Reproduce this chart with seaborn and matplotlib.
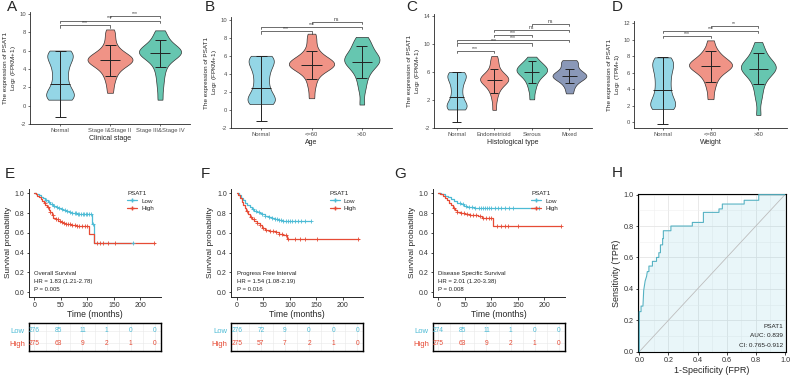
import numpy as np
import pandas as pd

import matplotlib
matplotlib.use('Agg')

import matplotlib.pyplot as plt
import matplotlib.lines as mlines

import seaborn as sns


# ---------------- violin panels (A-D) ----------------
# representative sample values (min, bulk, max)
normal_fpkm = [0.65, 0.75, 0.85, 1.0, 1.2, 1.45, 1.8, 2.2, 2.7, 3.2, 3.7, 4.2, 4.6, 5.0, 5.3, 5.55, 5.75, 5.9, 6.0]
stage12 = [1.4, 2.4, 3.1, 3.6, 4.0, 4.3, 4.55, 4.7, 4.8, 4.9, 5.0, 5.1, 5.2, 5.35, 5.5, 5.7, 6.0, 6.4, 7.0, 7.7, 8.3]
stage34 = [0.65, 2.0, 3.0, 3.8, 4.4, 4.9, 5.2, 5.45, 5.6, 5.7, 5.8, 5.9, 6.0, 6.1, 6.25, 6.45, 6.8, 7.2, 7.7, 8.2]
age_le60 = [1.3, 2.5, 3.3, 3.9, 4.3, 4.55, 4.75, 4.85, 4.95, 5.05, 5.15, 5.25, 5.4, 5.55, 5.75, 6.0, 6.4, 7.0, 7.8, 8.45]
age_gt60 = [0.6, 2.2, 3.1, 3.8, 4.3, 4.7, 5.0, 5.2, 5.35, 5.5, 5.65, 5.8, 6.0, 6.25, 6.6, 6.9, 7.3, 7.7, 8.1]
endometrioid = [0.6, 2.0, 2.9, 3.5, 3.9, 4.3, 4.55, 4.7, 4.85, 4.95, 5.05, 5.2, 5.4, 5.6, 5.9, 6.3, 7.0, 7.6, 8.3]
serous = [2.1, 3.3, 4.1, 4.7, 5.1, 5.5, 5.75, 5.95, 6.1, 6.25, 6.4, 6.6, 6.8, 7.0, 7.3, 7.6, 8.2]
mixed = [2.95, 3.8, 4.4, 4.8, 5.05, 5.25, 5.4, 5.55, 5.7, 5.9, 6.2, 6.6, 7.1, 7.5, 7.7]
normal_tpm = [1.6, 1.7, 1.82, 2.0, 2.25, 2.55, 2.95, 3.4, 3.9, 4.4, 4.9, 5.4, 5.9, 6.35, 6.75, 7.1, 7.4, 7.65, 7.85]
weight_le80 = [2.8, 4.0, 4.8, 5.4, 5.8, 6.15, 6.4, 6.6, 6.75, 6.85, 6.95, 7.1, 7.25, 7.45, 7.7, 8.0, 8.4, 8.9, 9.9]
weight_gt80 = [0.9, 2.8, 3.8, 4.6, 5.2, 5.65, 5.95, 6.2, 6.4, 6.55, 6.7, 6.85, 7.0, 7.2, 7.5, 7.9, 8.4, 8.9, 9.7]

cats_A = ["Normal", "Stage I&Stage II", "Stage III&Stage IV"]
mean_A = [2.4, 4.95, 5.75]
lo_A = [-1.2, 3.25, 4.25]
hi_A = [6.0, 6.65, 7.2]
sig_A = [(0, 1, 8.75, "***"), (0, 2, 9.25, "***"), (1, 2, 9.75, "***")]

cats_B = ["Normal", "<=60", ">60"]
mean_B = [2.4, 5.0, 5.3]
lo_B = [-1.2, 3.4, 3.5]
hi_B = [6.0, 6.55, 7.05]
sig_B = [(0, 1, 8.7, "***"), (0, 2, 9.2, "***"), (1, 2, 9.75, "ns")]

cats_C = ["Normal", "Endometrioid", "Serous", "Mixed"]
mean_C = [2.4, 4.85, 6.0, 5.5]
lo_C = [-1.2, 3.05, 4.4, 4.5]
hi_C = [6.0, 6.5, 7.6, 6.5]
sig_C = [(0, 1, 9.0, "***"), (0, 2, 10.1, "***"), (0, 3, 10.6, "***"),
         (1, 2, 11.3, "***"), (1, 3, 12.0, "ns"), (2, 3, 12.85, "ns")]

cats_D = ["Normal", "<=80", ">80"]
mean_D = [3.85, 6.8, 6.5]
lo_D = [-0.15, 4.9, 4.65]
hi_D = [7.85, 8.65, 8.4]
sig_D = [(0, 1, 10.4, "***"), (0, 2, 11.0, "***"), (1, 2, 11.6, "**")]

# ---------------- survival panels (E-G) ----------------
os_low_t = [0, 4, 8, 12, 16, 20, 25, 30, 35, 40, 45, 50, 55, 60, 66, 72, 80, 109, 113, 188]
os_low_s = [1.0, 0.99, 0.98, 0.965, 0.95, 0.935, 0.915, 0.895, 0.875, 0.86, 0.85, 0.84, 0.83, 0.82, 0.81, 0.80, 0.79, 0.69, 0.50, 0.50]
os_low_cens = [22, 28, 33, 38, 42, 47, 52, 57, 62, 67, 72, 76, 79, 82, 85, 88, 91, 94, 97, 100, 103, 106, 111, 187]
os_high_t = [0, 3, 6, 9, 12, 15, 18, 21, 24, 27, 30, 33, 36, 40, 45, 50, 55, 60, 70, 80, 103, 113, 228]
os_high_s = [1.0, 0.99, 0.975, 0.96, 0.94, 0.92, 0.90, 0.88, 0.86, 0.835, 0.81, 0.78, 0.755, 0.74, 0.725, 0.715, 0.705, 0.695, 0.68, 0.665, 0.59, 0.50, 0.50]
os_high_cens = [20, 25, 30, 35, 40, 44, 48, 52, 56, 60, 64, 68, 72, 76, 80, 85, 90, 95, 100, 118, 124, 130, 139, 152, 226]

pfi_low_t = [0, 4, 8, 12, 16, 20, 24, 28, 33, 38, 43, 48, 54, 60, 66, 72, 80, 88, 139]
pfi_low_s = [1.0, 0.98, 0.955, 0.93, 0.90, 0.88, 0.86, 0.84, 0.825, 0.81, 0.80, 0.79, 0.775, 0.76, 0.75, 0.74, 0.73, 0.72, 0.72]
pfi_low_cens = [30, 36, 42, 48, 54, 60, 66, 72, 76, 80, 84, 88, 92, 96, 100, 104, 110, 116, 122, 128, 139]
pfi_high_t = [0, 3, 6, 9, 12, 15, 18, 21, 25, 29, 33, 38, 43, 48, 54, 60, 66, 73, 80, 88, 95, 231]
pfi_high_s = [1.0, 0.98, 0.95, 0.915, 0.88, 0.85, 0.82, 0.79, 0.76, 0.74, 0.72, 0.70, 0.675, 0.65, 0.63, 0.62, 0.615, 0.605, 0.59, 0.575, 0.535, 0.535]
pfi_high_cens = [20, 26, 32, 38, 44, 50, 56, 62, 68, 74, 80, 86, 92, 97, 110, 120, 128, 151, 229]

dss_low_t = [0, 6, 12, 18, 24, 30, 36, 42, 48, 54, 60, 68, 76, 190]
dss_low_s = [1.0, 0.99, 0.975, 0.96, 0.945, 0.925, 0.905, 0.89, 0.875, 0.865, 0.86, 0.855, 0.85, 0.85]
dss_low_cens = [40, 46, 52, 58, 64, 70, 76, 80, 84, 88, 92, 96, 100, 106, 112, 118, 126, 134, 140, 190]
dss_high_t = [0, 4, 8, 12, 16, 20, 24, 28, 32, 36, 42, 50, 60, 75, 82, 104, 232]
dss_high_s = [1.0, 0.99, 0.975, 0.955, 0.93, 0.905, 0.88, 0.855, 0.835, 0.815, 0.80, 0.79, 0.785, 0.775, 0.755, 0.665, 0.665]
dss_high_cens = [30, 36, 42, 48, 54, 60, 66, 72, 78, 85, 90, 95, 100, 110, 118, 126, 132, 151, 232]

risk_times = [0, 50, 100, 150, 200, 250]
os_risk_low = [276, 85, 11, 1, 0, 0]
os_risk_high = [275, 63, 9, 2, 1, 0]
pfi_risk_low = [276, 72, 9, 0, 0, 0]
pfi_risk_high = [275, 57, 7, 2, 1, 0]
dss_risk_low = [274, 85, 11, 1, 0, 0]
dss_risk_high = [275, 63, 9, 2, 1, 0]

# ---------------- ROC (H) ----------------
roc_fpr = [0, 0, 0.012, 0.012, 0.025, 0.03, 0.04, 0.05, 0.055, 0.066, 0.066, 0.09, 0.09, 0.118, 0.118,
           0.134, 0.134, 0.145, 0.145, 0.16, 0.16, 0.165, 0.165, 0.217, 0.217, 0.364, 0.364, 0.44, 0.44,
           0.547, 0.547, 0.57, 0.57, 0.72, 0.72, 0.82, 0.82, 1.0]
roc_tpr = [0, 0.255, 0.255, 0.29, 0.29, 0.39, 0.45, 0.48, 0.51, 0.51, 0.545, 0.545, 0.575, 0.575, 0.60,
           0.60, 0.63, 0.63, 0.68, 0.68, 0.72, 0.72, 0.77, 0.77, 0.80, 0.80, 0.823, 0.823, 0.887,
           0.887, 0.909, 0.909, 0.94, 0.94, 0.964, 0.964, 1.0, 1.0]

C_LOW = "#4DBBD5"
C_HIGH = "#E64B35"
VIOLIN_COLS = ["#94D6E6", "#F09386", "#66C6B0", "#8A98B8"]
TICK_COL = "#4D4D4D"


def px_axes(fig, l, t, r, b):
    W, H = 792.0, 384.0
    return fig.add_axes([l / W, 1 - b / H, (r - l) / W, (b - t) / H])


def violin_panel(ax, cats, samples, means, lo, hi, sigs, ylim, yticks, xlabel, ylabel):
    df = pd.DataFrame({"group": np.repeat(cats, [len(s) for s in samples]),
                       "value": np.concatenate(samples)})
    sns.violinplot(data=df, x="group", y="value", hue="group", order=cats, hue_order=cats,
                   palette=VIOLIN_COLS[:len(cats)], cut=0, inner=None, density_norm="area",
                   common_norm=True, width=0.9, linewidth=0.5, linecolor="#333333", saturation=1,
                   bw_adjust=0.65, legend=False, ax=ax)
    x = np.arange(len(cats))
    kw = dict(color="#222222", lw=0.7, zorder=5)
    ax.vlines(x, lo, hi, **kw)
    ax.hlines(lo, x - 0.11, x + 0.11, **kw)
    ax.hlines(hi, x - 0.11, x + 0.11, **kw)
    ax.hlines(means, x - 0.2, x + 0.2, **kw)

    tick = 0.02 * (ylim[1] - ylim[0])
    for i, j, h, lab in sigs:
        ax.plot([i, i, j, j], [h - tick, h, h, h - tick], color="#333333", lw=0.5)
        ax.text((i + j) / 2, h + tick * 0.15, lab, ha="center", va="bottom", fontsize=3.6, color="#333333")

    ax.set_xlim(-0.6, len(cats) - 0.4)
    ax.set_ylim(*ylim)
    ax.set_yticks(yticks)
    ax.set_xlabel(xlabel, fontsize=5, labelpad=1.5)
    ax.set_ylabel(ylabel, fontsize=4.6, labelpad=1, linespacing=1.1)
    ax.tick_params(labelsize=4.2, length=1.5, width=0.5, pad=1.5, colors="#333333", labelcolor=TICK_COL)
    sns.despine(ax=ax)
    for s in ["left", "bottom"]:
        ax.spines[s].set_linewidth(0.6)


def km_panel(ax, curves, name, hr, pval):
    for t, s, cens, col in curves:
        sns.lineplot(x=t, y=s, drawstyle="steps-post", color=col, lw=0.9,
                     estimator=None, sort=False, ax=ax)
        t_arr = np.array(t)
        cs = np.array(s)[np.searchsorted(t_arr, cens, side="right") - 1]
        sns.scatterplot(x=cens, y=cs, marker="+", color=col, s=9, linewidth=0.6, ax=ax, zorder=4)
    ax.set_xlim(-10, 238)
    ax.set_ylim(-0.05, 1.05)
    ax.set_xticks([0, 50, 100, 150, 200])
    ax.set_yticks([0, 0.2, 0.4, 0.6, 0.8, 1.0])
    ax.set_yticklabels(["0.0", "0.2", "0.4", "0.6", "0.8", "1.0"])
    ax.set_xlabel("Time (months)", fontsize=6.2, labelpad=1)
    ax.set_ylabel("Survival probability", fontsize=6, labelpad=2)
    ax.tick_params(labelsize=5, length=1.8, width=0.6, pad=1.5, labelcolor="#333333")
    sns.despine(ax=ax)
    for s in ["left", "bottom"]:
        ax.spines[s].set_linewidth(0.7)
    for k, txt in enumerate([name, hr, pval]):
        ax.text(0, 0.19 - 0.083 * k, txt, fontsize=4.3, ha="left", va="center", color="#222222")
    handles = [mlines.Line2D([], [], color=C_LOW, marker="+", markersize=3, lw=0.9, label="Low"),
               mlines.Line2D([], [], color=C_HIGH, marker="+", markersize=3, lw=0.9, label="High")]
    ax.legend(handles=handles, title="PSAT1", loc="upper left", bbox_to_anchor=(0.73, 1.0),
              frameon=False, fontsize=4.5, title_fontsize=4.5, handlelength=1.6,
              alignment="left", labelspacing=0.35, borderaxespad=0, handletextpad=0.6)


def risk_table(ax, low, high):
    ax.set_xlim(-11, 262)
    ax.set_ylim(-0.6, 1.6)
    for k, t in enumerate(risk_times):
        ax.text(t, 1, str(low[k]), color=C_LOW, ha="center", va="center", fontsize=4.8)
        ax.text(t, 0, str(high[k]), color=C_HIGH, ha="center", va="center", fontsize=4.8)
    ax.set_xticks(risk_times)
    ax.set_xticks([25, 75, 125, 175, 225], minor=True)
    ax.set_yticks([1, 0])
    ax.set_yticklabels(["Low", "High"])
    for lab, col in zip(ax.get_yticklabels(), [C_LOW, C_HIGH]):
        lab.set_color(col)
    ax.tick_params(axis="y", labelsize=5.5, length=0, pad=3)
    ax.tick_params(axis="x", which="both", length=0, labelbottom=False)
    ax.grid(True, which="both", color="#E8E8E8", lw=0.4)
    ax.set_axisbelow(True)
    for s in ax.spines.values():
        s.set_visible(True)
        s.set_color("black")
        s.set_linewidth(1.0)


def main():
    sns.set_style("ticks")
    plt.rcParams["font.family"] = ["Liberation Sans", "DejaVu Sans"]
    plt.rcParams["mathtext.default"] = "regular"
    plt.rcParams["axes.unicode_minus"] = False

    fig = plt.figure(figsize=(7.92, 3.84), dpi=100)

    # top row
    ylab_fpkm = "The expression of PSAT1\nLog$_2$ (FPKM+1)"
    ax = px_axes(fig, 30, 12, 190, 124)
    violin_panel(ax, cats_A, [normal_fpkm, stage12, stage34], mean_A, lo_A, hi_A, sig_A,
                 (-2, 10.2), [-2, 0, 2, 4, 6, 8, 10], "Clinical stage", ylab_fpkm)
    ax = px_axes(fig, 231, 17, 392, 128)
    violin_panel(ax, cats_B, [normal_fpkm, age_le60, age_gt60], mean_B, lo_B, hi_B, sig_B,
                 (-2, 10.3), [-2, 0, 2, 4, 6, 8, 10], "Age", ylab_fpkm)
    ax = px_axes(fig, 434, 14, 592, 128)
    violin_panel(ax, cats_C, [normal_fpkm, endometrioid, serous, mixed], mean_C, lo_C, hi_C, sig_C,
                 (-2, 14.3), [-2, 2, 6, 10, 14], "Histological type", ylab_fpkm)
    ax = px_axes(fig, 634, 21, 787, 128)
    violin_panel(ax, cats_D, [normal_tpm, weight_le80, weight_gt80], mean_D, lo_D, hi_D, sig_D,
                 (-0.68, 12.24), [0, 2, 4, 6, 8, 10, 12], "Weight",
                 "The expression of PSAT1\nLog$_2$ (TPM+1)")

    # survival
    km_sets = [
        (29, [(os_low_t, os_low_s, os_low_cens, C_LOW), (os_high_t, os_high_s, os_high_cens, C_HIGH)],
         "Overall Survival", "HR = 1.83 (1.21-2.78)", "P = 0.005", os_risk_low, os_risk_high),
        (231.5, [(pfi_low_t, pfi_low_s, pfi_low_cens, C_LOW), (pfi_high_t, pfi_high_s, pfi_high_cens, C_HIGH)],
         "Progress Free Interval", "HR = 1.54 (1.08-2.19)", "P = 0.016", pfi_risk_low, pfi_risk_high),
        (433, [(dss_low_t, dss_low_s, dss_low_cens, C_LOW), (dss_high_t, dss_high_s, dss_high_cens, C_HIGH)],
         "Disease Specific Survival", "HR = 2.01 (1.20-3.38)", "P = 0.008", dss_risk_low, dss_risk_high),
    ]
    for left, curves, name, hr, pval, rl, rh in km_sets:
        ax = px_axes(fig, left, 188.5, left + 131.5, 297)
        km_panel(ax, curves, name, hr, pval)
        ax = px_axes(fig, left, 323, left + 131.5, 351)
        risk_table(ax, rl, rh)

    # ROC
    ax = px_axes(fig, 638.3, 194, 785.7, 352.3)
    ax.fill_between(roc_fpr, roc_tpr, color=C_LOW, alpha=0.12, lw=0, zorder=1)
    sns.lineplot(x=roc_fpr, y=roc_tpr, sort=False, estimator=None, color="#56B2C3", lw=0.8, ax=ax, zorder=3)
    ax.axline((0, 0), slope=1, color="#BDBDBD", lw=0.6, zorder=2)
    ax.set_xlim(-0.007, 1.005)
    ax.set_ylim(-0.004, 1.004)
    ticks = [0, 0.2, 0.4, 0.6, 0.8, 1.0]
    tlabs = ["0.0", "0.2", "0.4", "0.6", "0.8", "1.0"]
    ax.set_xticks(ticks)
    ax.set_xticklabels(tlabs)
    ax.set_yticks(ticks)
    ax.set_yticklabels(tlabs)
    ax.set_xticks([0.1, 0.3, 0.5, 0.7, 0.9], minor=True)
    ax.set_yticks([0.1, 0.3, 0.5, 0.7, 0.9], minor=True)
    ax.grid(True, which="major", color="#E5E5E5", lw=0.6)
    ax.grid(True, which="minor", color="#F0F0F0", lw=0.4)
    ax.set_axisbelow(True)
    ax.tick_params(which="minor", length=0)
    ax.tick_params(which="major", labelsize=5.2, length=1.8, width=0.6, pad=1.5, labelcolor="#333333")
    for s in ax.spines.values():
        s.set_visible(True)
        s.set_color("black")
        s.set_linewidth(0.8)
    ax.set_xlabel("1-Specificity (FPR)", fontsize=6.5, labelpad=1.5)
    ax.set_ylabel("Sensitivity (TPR)", fontsize=6.5, labelpad=2)
    for k, txt in enumerate(["PSAT1", "AUC: 0.839", "CI: 0.765-0.912"]):
        ax.text(0.98, 0.166 - 0.06 * k, txt, transform=ax.transAxes, ha="right", va="center",
                fontsize=4.6, color="#222222")

    # panel letters
    for lab, x, y in [("A", 12, 7), ("B", 210, 7), ("C", 412, 7), ("D", 617, 7),
                      ("E", 10, 174), ("F", 205, 174), ("G", 400, 174), ("H", 617, 173)]:
        fig.text(x / 792, 1 - y / 384, lab, fontsize=11, ha="center", va="center")

    fig.savefig("out.png", dpi=100)
    plt.close(fig)


if __name__ == '__main__':
    main()
